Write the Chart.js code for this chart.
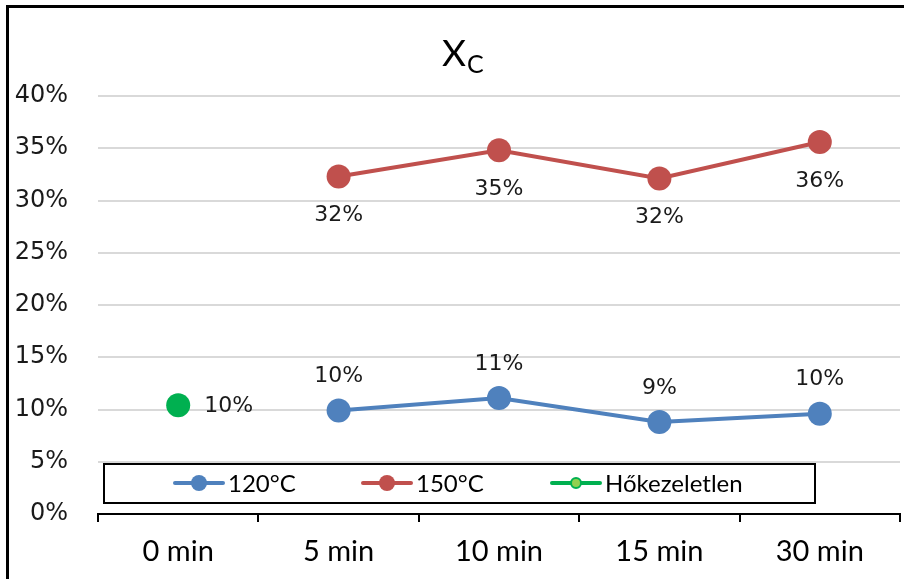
<!DOCTYPE html>
<html>
<head>
<meta charset="utf-8">
<script src="https://cdn.jsdelivr.net/npm/chart.js@4.4.0/dist/chart.umd.min.js"></script>
<style>
  html, body { margin: 0; padding: 0; background: #fff; }
  #wrap { position: relative; width: 904px; height: 579px; }
</style>
</head>
<body>
<div id="wrap"><canvas id="chart" width="904" height="579"></canvas></div>
<script>
// values (percent)
var categories = ['0 min', '5 min', '10 min', '15 min', '30 min'];
var seriesNames = ['120°C', '150°C', 'Hőkezeletlen'];
var values120 = [null, 9.9, 11.1, 8.8, 9.6];
var values150 = [null, 32.3, 34.8, 32.1, 35.6];
var valuesRaw = [10.4, null, null, null, null];
var yTicks = [0, 5, 10, 15, 20, 25, 30, 35, 40];

var blue = '#4f81bd';
var red = '#c0504d';
var green = '#00b050';

// outer frame (only left and top edges visible)
var framePlugin = {
    id: 'frame',
    afterDraw: function(chart) {
        var c = chart.ctx;
        c.save();
        c.fillStyle = '#000';
        c.fillRect(6, 5, 3, 574);
        c.fillRect(6, 5, 898, 3);
        c.restore();
    }
};

// title X with subscript C
var titlePlugin = {
    id: 'subTitle',
    afterDraw: function(chart) {
        var c = chart.ctx;
        c.save();
        c.fillStyle = '#000';
        c.textBaseline = 'alphabetic';
        c.textAlign = 'left';
        c.font = '37px Lato';
        c.fillText('X', 442, 66);
        c.font = '25px Lato';
        c.fillText('C', 467, 73);
        c.restore();
    }
};

// value labels next to each point
var labelPlugin = {
    id: 'valueLabels',
    afterDatasetsDraw: function(chart) {
        var c = chart.ctx;
        c.save();
        c.fillStyle = '#1a1a1a';
        c.font = '22px "DejaVu Sans"';
        c.textBaseline = 'middle';
        chart.data.datasets.forEach(function(ds, i) {
            var meta = chart.getDatasetMeta(i);
            meta.data.forEach(function(pt, j) {
                var v = ds.data[j];
                if (v === null) return;
                var txt = Math.round(v) + '%';
                if (ds.labelPos === 'above') {
                    c.textAlign = 'center';
                    c.fillText(txt, pt.x, pt.y - 34);
                } else if (ds.labelPos === 'below') {
                    c.textAlign = 'center';
                    c.fillText(txt, pt.x, pt.y + 39);
                } else {
                    c.textAlign = 'left';
                    c.fillText(txt, pt.x + 26, pt.y + 1);
                }
            });
        });
        c.restore();
    }
};

// legend box sitting inside the plot area
var legendPlugin = {
    id: 'boxLegend',
    afterDraw: function(chart) {
        var c = chart.ctx;
        var items = [
            {x: 175, markR: 8, fill: blue},
            {x: 363, markR: 8, fill: red},
            {x: 552, markR: 5, fill: '#92d050'}
        ];
        var y = 483;
        c.save();
        c.fillStyle = '#fff';
        c.fillRect(104, 464, 711, 39);
        c.strokeStyle = '#000';
        c.lineWidth = 2;
        c.strokeRect(104, 464, 711, 39);
        chart.data.datasets.forEach(function(ds, i) {
            var it = items[i];
            c.strokeStyle = ds.borderColor;
            c.lineWidth = 4;
            c.lineCap = 'round';
            c.beginPath();
            c.moveTo(it.x, y);
            c.lineTo(it.x + 48, y);
            c.stroke();
            c.beginPath();
            c.arc(it.x + 24, y, it.markR, 0, Math.PI * 2);
            c.fillStyle = it.fill;
            c.fill();
            if (i === 2) {
                c.lineWidth = 2;
                c.strokeStyle = green;
                c.stroke();
            }
            c.fillStyle = '#000';
            c.font = '24px Lato';
            c.textAlign = 'left';
            c.textBaseline = 'middle';
            c.fillText(ds.label, it.x + 53, y + 1);
        });
        c.restore();
    }
};

var ctx = document.getElementById('chart').getContext('2d');
var chart = new Chart(ctx, {
    type: 'line',
    data: {
        labels: categories,
        datasets: [{
            label: seriesNames[0],
            data: values120,
            borderColor: blue,
            backgroundColor: blue,
            borderWidth: 4,
            pointRadius: 12,
            pointBorderWidth: 0,
            labelPos: 'above'
        }, {
            label: seriesNames[1],
            data: values150,
            borderColor: red,
            backgroundColor: red,
            borderWidth: 4,
            pointRadius: 12,
            pointBorderWidth: 0,
            labelPos: 'below'
        }, {
            label: seriesNames[2],
            data: valuesRaw,
            borderColor: green,
            backgroundColor: green,
            borderWidth: 4,
            pointRadius: 12,
            pointBorderWidth: 0,
            labelPos: 'right'
        }]
    },
    options: {
        responsive: false,
        animation: false,
        events: [],
        layout: { autoPadding: false, padding: { top: 96, right: 4, left: 0, bottom: 0 } },
        plugins: {
            legend: { display: false },
            title: { display: false },
            tooltip: { enabled: false }
        },
        scales: {
            x: {
                offset: true,
                grid: {
                    offset: true,
                    drawOnChartArea: false,
                    color: '#000',
                    lineWidth: 2,
                    tickLength: 8
                },
                border: { color: '#000', width: 2 },
                ticks: {
                    color: '#000',
                    font: { family: 'Lato', size: 29 },
                    padding: 12,
                    maxRotation: 0
                },
                afterFit: function(scale) {
                    scale.height = 65;
                    scale.paddingLeft = 0;
                    scale.paddingRight = 0;
                }
            },
            y: {
                min: 0,
                max: 40,
                afterBuildTicks: function(scale) {
                    scale.ticks = yTicks.map(function(v) { return {value: v}; });
                },
                grid: {
                    color: '#d9d9d9',
                    lineWidth: 2,
                    drawTicks: false
                },
                border: { display: false },
                ticks: {
                    color: '#1a1a1a',
                    font: { family: 'DejaVu Sans', size: 24 },
                    padding: 30,
                    callback: function(v) { return v + '%'; }
                },
                afterFit: function(scale) { scale.width = 98; }
            }
        }
    },
    plugins: [framePlugin, titlePlugin, labelPlugin, legendPlugin]
});
</script>
</body>
</html>
